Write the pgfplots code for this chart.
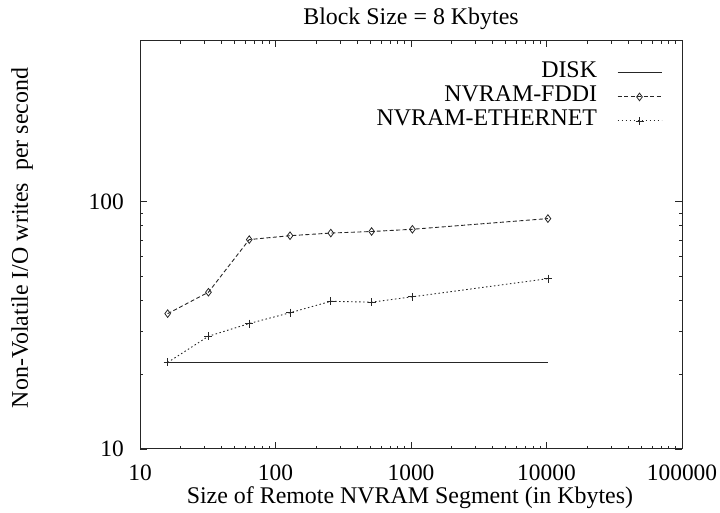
\documentclass[border=0pt]{standalone}
\usepackage{fontspec}
\setmainfont{Liberation Serif}
\usepackage{pgfplots}
\pgfplotsset{compat=1.18}
\begin{document}
\begin{tikzpicture}
\begin{axis}[
  at={(0,0)}, anchor=south west,
  xmode=log, ymode=log,
  xmin=10, xmax=100000, ymin=10, ymax=450,
  width=542bp, height=408.5bp, scale only axis,
  axis line style={line width=1bp, black!85},
  every tick/.style={black!85, line width=0.8bp},
  major tick length=7bp, minor tick length=3.5bp,
  xtick={10,100,1000,10000,100000},
  xticklabels={10,100,1000,10000,100000},
  ytick={10,100},
  yticklabels={10,100},
  /pgf/number format/assume math mode=true,
  ticklabel style={font=\fontsize{23.5}{24}\selectfont},
  xticklabel style={inner sep=0pt, anchor=north, yshift=-16bp},
  yticklabel style={inner sep=0pt, anchor=east, xshift=-16bp},
  title={Block Size = 8 Kbytes},
  every axis title shift=0pt,
  title style={at={(axis description cs:0.5,1.0526)}, anchor=center, yshift=0pt, font=\fontsize{24}{24}\selectfont, inner sep=0pt},
  xlabel={Size of Remote NVRAM Segment (in Kbytes)},
  xlabel style={at={(axis description cs:0.498,-0.12)}, anchor=center, font=\fontsize{24}{24}\selectfont, inner sep=0pt},
  ylabel={Non-Volatile I/O writes \ per second},
  ylabel style={at={(axis description cs:-0.2177,0.5165)}, anchor=center, font=\fontsize{24}{24}\selectfont, inner sep=0pt},
  legend style={at={(axis description cs:0.963,0.950)}, anchor=north east, draw=none, fill=none, inner sep=0pt, outer sep=0pt, font=\fontsize{24}{24}\selectfont, row sep=0pt, column sep=20bp, nodes={inner sep=0pt, text height=17bp, text depth=7bp}},
  legend cell align=right,
  legend plot pos=right,
  legend image code/.code={\draw[mark repeat=2,mark phase=2,#1] plot coordinates {(0bp,0bp) (22bp,0bp) (44bp,0bp)};},
]
\addplot[black!85, line width=0.9bp, mark=none] coordinates {
  (16,22.4) (32,22.4) (64,22.4) (128,22.4) (256,22.4) (512,22.4) (1024,22.4) (10240,22.4)
};
\addlegendentry{DISK}
\addplot[black!85, line width=0.9bp, dash pattern=on 4bp off 2.5bp, mark=diamond, mark size=3.8bp, mark options={solid, fill=white, line width=0.8bp}] coordinates {
  (16,35.3) (32,43.1) (64,70.4) (128,73.0) (256,74.8) (512,75.9) (1024,77.5) (10240,85.6)
};
\addlegendentry{NVRAM-FDDI}
\addplot[black!85, line width=0.9bp, dash pattern=on 1.5bp off 2.5bp, mark=+, mark size=4bp, mark options={solid, line width=0.8bp}] coordinates {
  (16,22.4) (32,28.6) (64,32.2) (128,35.6) (256,39.6) (512,39.3) (1024,41.3) (10240,48.9)
};
\addlegendentry{NVRAM-ETHERNET}
\end{axis}
\pgfresetboundingbox
\useasboundingbox (-140bp,-64bp) rectangle (580bp,449bp);
\end{tikzpicture}
\end{document}
